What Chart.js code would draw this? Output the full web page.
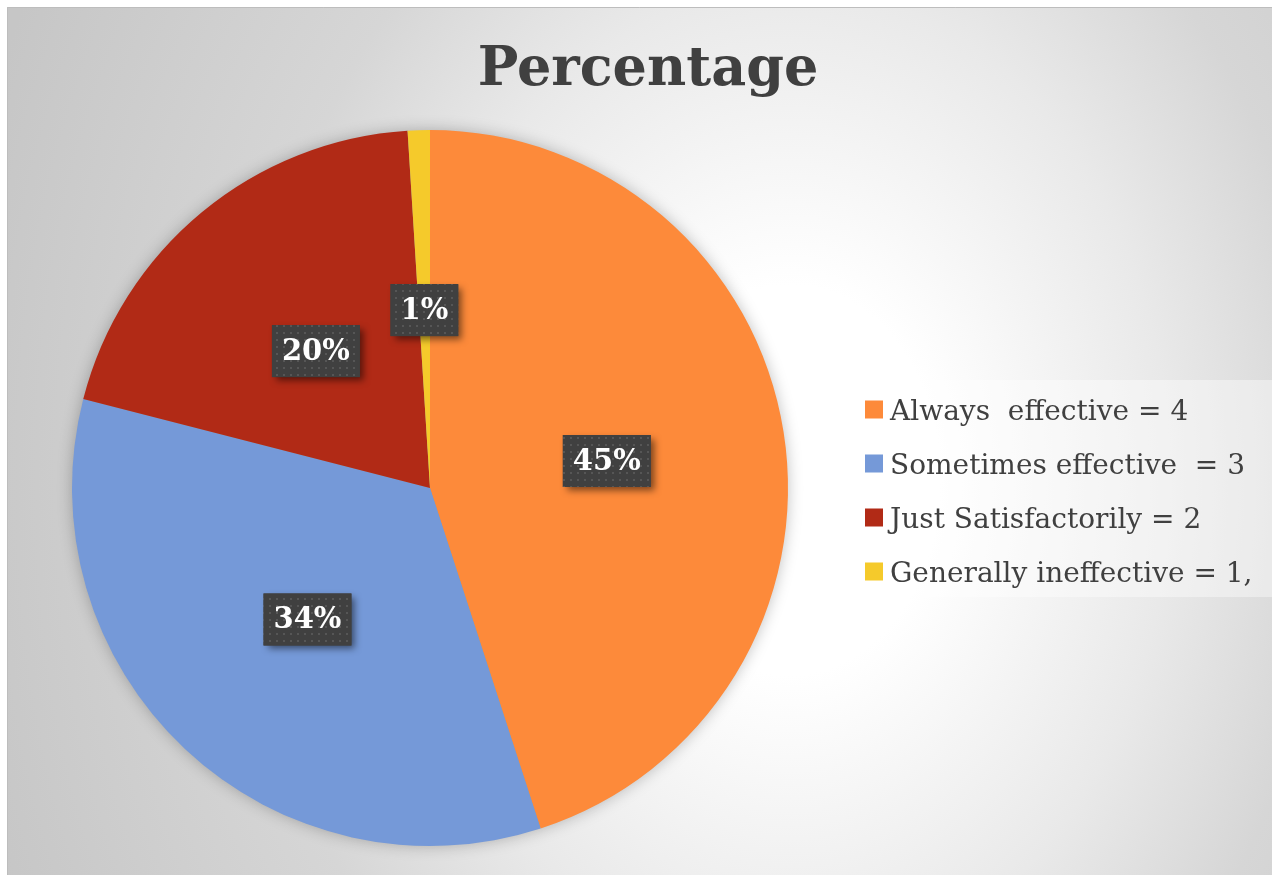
<!DOCTYPE html>
<html>
<head>
<meta charset="utf-8">
<script src="https://cdn.jsdelivr.net/npm/chart.js@4.4.1/dist/chart.umd.min.js"></script>
<style>
html,body{margin:0;padding:0;background:#fff;}
canvas{display:block;}
</style>
</head>
<body>
<canvas id="c" width="1272" height="875"></canvas>
<script>
const chartTitle = 'Percentage';
const categories = ['Always  effective = 4', 'Sometimes effective  = 3', 'Just Satisfactorily = 2', 'Generally ineffective = 1,'];
const percentages = [45, 34, 20, 1];
const sliceColors = ['#FD8A3A', '#7599D8', '#B12A16', '#F5CA2B'];

const SERIF = '"DejaVu Serif", "Liberation Serif", serif';

const backgroundPlugin = {
  id: 'bg',
  beforeDraw(chart) {
    const ctx = chart.ctx;
    const W = chart.width, H = chart.height;
    ctx.save();
    ctx.fillStyle = '#ffffff';
    ctx.fillRect(0, 0, W, H);
    ctx.save();
    ctx.beginPath();
    ctx.rect(7, 7, W - 7, H - 7);
    ctx.clip();
    const cx = 790, cy = 480;
    ctx.translate(cx, cy);
    ctx.scale(1, 1.3);
    const R = 850;
    const g = ctx.createRadialGradient(0, 0, 0, 0, 0, R);
    g.addColorStop(0, '#ffffff');
    g.addColorStop(150 / R, '#ffffff');
    g.addColorStop(380 / R, '#e9e9e9');
    g.addColorStop(540 / R, '#d6d6d6');
    g.addColorStop(1, '#c6c6c6');
    ctx.fillStyle = g;
    ctx.fillRect(-R * 2, -R * 2, R * 4, R * 4);
    ctx.restore();
    ctx.strokeStyle = '#bdbdbd';
    ctx.lineWidth = 1;
    ctx.beginPath();
    ctx.moveTo(7.5, H);
    ctx.lineTo(7.5, 7.5);
    ctx.lineTo(W, 7.5);
    ctx.stroke();
    ctx.restore();
  },
  beforeDatasetsDraw(chart) {
    const arc = chart.getDatasetMeta(0).data[0];
    if (!arc) return;
    const ctx = chart.ctx;
    ctx.save();
    ctx.shadowColor = 'rgba(0,0,0,0.28)';
    ctx.shadowBlur = 16;
    ctx.fillStyle = '#999';
    ctx.beginPath();
    ctx.arc(arc.x, arc.y, arc.outerRadius - 1, 0, Math.PI * 2);
    ctx.fill();
    ctx.restore();
  }
};

function makePattern(ctx) {
  const p = document.createElement('canvas');
  p.width = 7; p.height = 7;
  const pc = p.getContext('2d');
  pc.fillStyle = '#404040';
  pc.fillRect(0, 0, 7, 7);
  pc.fillStyle = '#565656';
  pc.fillRect(3, 3, 2, 2);
  return ctx.createPattern(p, 'repeat');
}

const overlayPlugin = {
  id: 'overlay',
  afterDatasetsDraw(chart) {
    const ctx = chart.ctx;
    const meta = chart.getDatasetMeta(0);
    const values = chart.data.datasets[0].data;
    const pattern = makePattern(ctx);
    ctx.save();
    // data labels
    ctx.font = 'bold 29px ' + SERIF;
    meta.data.forEach((arc, i) => {
      const pos = arc.tooltipPosition();
      const txt = values[i] + '%';
      const tw = ctx.measureText(txt).width;
      const bw = tw + 20, bh = 52;
      const x = pos.x - bw / 2, y = pos.y - bh / 2 + 1;
      ctx.save();
      ctx.shadowColor = 'rgba(0,0,0,0.5)';
      ctx.shadowBlur = 7;
      ctx.shadowOffsetX = 4;
      ctx.shadowOffsetY = 4;
      ctx.fillStyle = '#404040';
      ctx.fillRect(x, y, bw, bh);
      ctx.restore();
      ctx.fillStyle = pattern;
      ctx.fillRect(x, y, bw, bh);
      ctx.fillStyle = '#ffffff';
      ctx.textAlign = 'center';
      ctx.textBaseline = 'middle';
      ctx.fillText(txt, pos.x, pos.y + 2);
    });
    // title
    ctx.fillStyle = '#404040';
    ctx.font = 'bold 54px ' + SERIF;
    ctx.textAlign = 'center';
    ctx.textBaseline = 'alphabetic';
    ctx.fillText(chartTitle, 648, 85);
    // legend
    ctx.fillStyle = 'rgba(255,255,255,0.4)';
    ctx.fillRect(850, 380, chart.width - 850, 217);
    ctx.font = '28px ' + SERIF;
    ctx.textAlign = 'left';
    chart.data.labels.forEach((lab, i) => {
      const cy = 409.5 + i * 54;
      ctx.fillStyle = chart.data.datasets[0].backgroundColor[i];
      ctx.fillRect(865, cy - 9, 18, 18);
      ctx.fillStyle = '#404040';
      ctx.fillText(lab, 890, cy + 10);
    });
    ctx.restore();
  }
};

new Chart(document.getElementById('c'), {
  type: 'pie',
  data: {
    labels: categories,
    datasets: [{
      data: percentages,
      backgroundColor: sliceColors,
      borderWidth: 0
    }]
  },
  options: {
    responsive: false,
    animation: false,
    layout: { padding: { left: 72, right: 484, top: 130, bottom: 29 } },
    plugins: {
      legend: { display: false },
      tooltip: { enabled: false },
      title: { display: false }
    }
  },
  plugins: [backgroundPlugin, overlayPlugin]
});
</script>
</body>
</html>
